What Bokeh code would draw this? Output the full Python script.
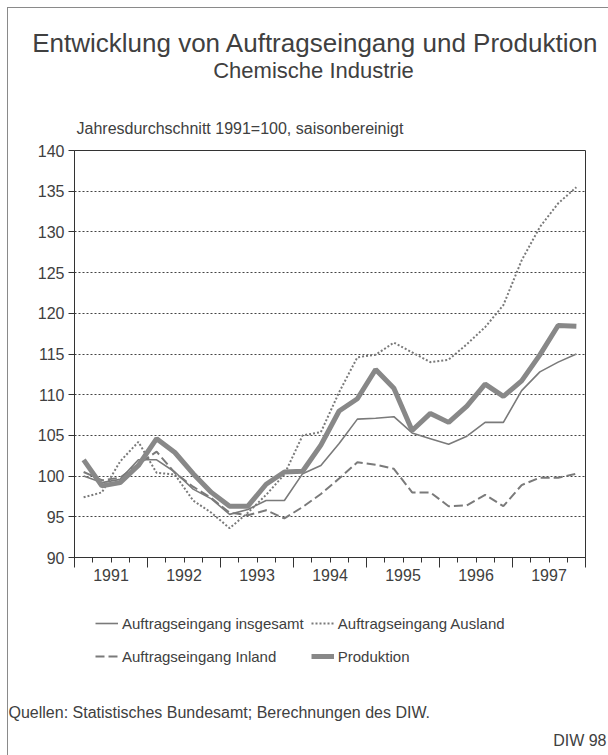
from bokeh.plotting import figure
from bokeh.layouts import column
from bokeh.models import (FixedTicker, Legend, LegendItem, LinearAxis, Label,
                          Range1d, ColumnDataSource)
from bokeh.embed import file_html
from bokeh.resources import INLINE

# ---- data (quarterly, 1991 Q1 .. 1997 Q4), index 1991 = 100, seasonally adjusted
years = ["1991", "1992", "1993", "1994", "1995", "1996", "1997"]
quarters_per_year = 4

insgesamt = [100.0, 99.2, 99.6, 102.0, 102.0, 100.5, 98.4, 97.2,
             95.3, 95.9, 97.0, 97.0, 100.3, 101.3, 104.0, 107.0,
             107.1, 107.3, 105.3, 104.6, 103.9, 104.9, 106.6, 106.6,
             110.5, 112.8, 114.0, 115.0]
ausland = [97.4, 98.0, 101.8, 104.2, 100.4, 100.2, 97.0, 95.5,
           93.6, 95.5, 97.7, 100.2, 105.0, 105.4, 110.3, 114.6,
           114.9, 116.4, 115.2, 114.0, 114.3, 116.2, 118.3, 121.0,
           126.5, 130.6, 133.5, 135.5]
inland = [100.5, 99.5, 99.8, 101.5, 103.0, 100.4, 98.7, 97.3,
          95.5, 95.2, 95.8, 94.8, 96.2, 97.8, 99.7, 101.7,
          101.4, 100.9, 98.0, 98.0, 96.3, 96.4, 97.7, 96.3,
          98.9, 99.8, 99.8, 100.3]
produktion = [102.0, 98.8, 99.2, 101.3, 104.6, 102.9, 100.3, 98.0,
              96.3, 96.3, 99.0, 100.5, 100.6, 103.8, 108.0, 109.5,
              113.1, 110.8, 105.6, 107.7, 106.6, 108.6, 111.3, 109.8,
              111.7, 114.9, 118.5, 118.4]

y_ticks = [90, 95, 100, 105, 110, 115, 120, 125, 130, 135, 140]

title_text = "Entwicklung von Auftragseingang und Produktion"
subtitle_text = "Chemische Industrie"
unit_text = "Jahresdurchschnitt 1991=100, saisonbereinigt"
source_text = "Quellen: Statistisches Bundesamt; Berechnungen des DIW."
credit_text = "DIW 98"
legend_names = ["Auftragseingang insgesamt", "Auftragseingang Ausland",
                "Auftragseingang Inland", "Produktion"]

FONT = "Liberation Sans"
TXT = "#404040"
LINE = "#7a7a7a"
PROD = "#888888"
AX = "#333333"
W = 608


def blank(height):
    f = figure(width=W, height=height, output_backend="svg", toolbar_location=None,
               x_range=Range1d(0, W), y_range=Range1d(0, height),
               x_axis_location=None, y_axis_location=None, min_border=0)
    if "frame_align" in f.properties():
        f.frame_align = False
    f.xgrid.visible = False
    f.ygrid.visible = False
    f.outline_line_color = None
    f.background_fill_alpha = 0
    f.border_fill_alpha = 0
    return f


def lab(f, text, x, y, size, align="left"):
    f.add_layout(Label(x=x, y=y, text=text, text_align=align, text_baseline="middle",
                       text_font=FONT, text_font_size=size, text_color=TXT))


# ---------------- top: titles
TOP_H = 140
top = blank(TOP_H)
lab(top, title_text, 315, TOP_H - 42, "26px", "center")
lab(top, subtitle_text, 313, TOP_H - 70, "22px", "center")
lab(top, unit_text, 76, TOP_H - 128, "16px")

# ---------------- main chart
n = len(produktion)
xq = [i + 0.5 for i in range(n)]
src = ColumnDataSource(dict(x=xq, ins=insgesamt, aus=ausland, inl=inland, pro=produktion))

p = figure(width=W, height=457, output_backend="svg", toolbar_location=None,
           x_range=Range1d(0, n), y_range=Range1d(y_ticks[0], y_ticks[-1]),
           min_border_left=74, min_border_right=23, min_border_top=10,
           min_border_bottom=40)
if "frame_align" in p.properties():
    p.frame_align = False
p.outline_line_color = AX
p.outline_line_width = 1
p.background_fill_alpha = 0
p.border_fill_alpha = 0

p.yaxis.ticker = FixedTicker(ticks=y_ticks)
p.yaxis.major_tick_out = 6
p.yaxis.major_tick_in = 0
p.yaxis.minor_tick_line_color = None
p.yaxis.major_label_standoff = 4
p.yaxis.major_label_text_font = FONT
p.yaxis.major_label_text_font_size = "16px"
p.yaxis.major_label_text_color = TXT
p.yaxis.axis_line_color = AX
p.yaxis.major_tick_line_color = AX

# x axis A: long ticks at year boundaries, short ticks at quarters, no labels
year_bounds = [i * quarters_per_year for i in range(len(years) + 1)]
xa = p.xaxis[0]
xa.ticker = FixedTicker(ticks=year_bounds, minor_ticks=list(range(n + 1)))
xa.major_tick_out = 10
xa.major_tick_in = 0
xa.minor_tick_out = 5
xa.minor_tick_in = 0
xa.major_label_text_color = None
xa.major_label_text_font_size = "0px"
xa.major_label_standoff = 0
xa.axis_line_color = AX
xa.major_tick_line_color = AX
xa.minor_tick_line_color = AX

# x axis B: year labels centred in each year
centers = [i * quarters_per_year + quarters_per_year / 2 for i in range(len(years))]
xb = LinearAxis(ticker=FixedTicker(ticks=centers),
                major_label_overrides={c: y for c, y in zip(centers, years)})
xb.axis_line_color = None
xb.major_tick_line_color = None
xb.minor_tick_line_color = None
xb.major_tick_out = 0
xb.major_tick_in = 0
xb.major_label_standoff = 1
xb.major_label_text_font = FONT
xb.major_label_text_font_size = "16px"
xb.major_label_text_color = TXT
p.add_layout(xb, "below")

p.xgrid.visible = False
p.ygrid.ticker = FixedTicker(ticks=y_ticks[1:-1])
p.ygrid.grid_line_color = "#444444"
p.ygrid.grid_line_dash = "2 2"
p.ygrid.grid_line_width = 1

STY = dict(
    ins=dict(line_color=LINE, line_width=1.6),
    aus=dict(line_color=LINE, line_width=2, line_dash="2 2"),
    inl=dict(line_color=LINE, line_width=2, line_dash="9 4"),
    pro=dict(line_color=PROD, line_width=5),
)
for key in ["ins", "aus", "inl", "pro"]:
    p.line("x", key, source=src, **STY[key])

# ---------------- bottom: legend and sources
BOT_H = 158
bot = blank(BOT_H)
nan = float("nan")
swatch_src = ColumnDataSource(dict(x=[nan, nan], y=[nan, nan]))
sw = {k: bot.line("x", "y", source=swatch_src, **STY[k]) for k in STY}
legend = Legend(items=[LegendItem(label=legend_names[0], renderers=[sw["ins"]]),
                       LegendItem(label=legend_names[2], renderers=[sw["inl"]]),
                       LegendItem(label=legend_names[1], renderers=[sw["aus"]]),
                       LegendItem(label=legend_names[3], renderers=[sw["pro"]])],
                ncols=2, location=(95, BOT_H - 72))
legend.glyph_width = 23
legend.glyph_height = 26
legend.label_height = 26
legend.spacing = 7
legend.label_standoff = 4
legend.padding = 0
legend.margin = 0
legend.border_line_color = None
legend.background_fill_alpha = 0
legend.label_text_font = FONT
legend.label_text_font_size = "15px"
legend.label_text_color = TXT
bot.add_layout(legend)

lab(bot, source_text, 8, BOT_H - 115, "16px")
lab(bot, credit_text, 606, BOT_H - 143, "16px", "right")

page = column(top, p, bot, spacing=0)
# thin page frame (left and top edges) as in the printed original
page.styles = {
    "background": ("linear-gradient(#8a8a8a, #8a8a8a) 7px 7px / 1px 748px no-repeat, "
                   "linear-gradient(#8a8a8a, #8a8a8a) 7px 7px / 601px 1px no-repeat, white"),
}

open("out.html", "w").write(file_html(page, INLINE))
